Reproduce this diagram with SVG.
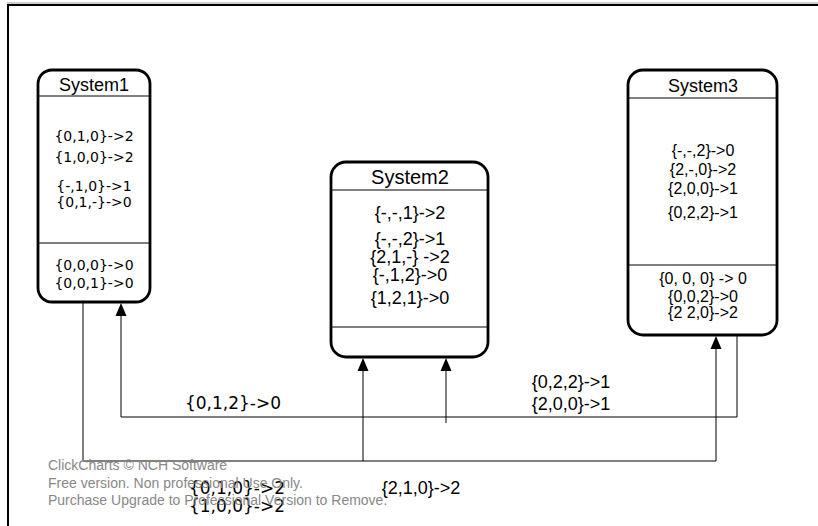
<svg xmlns="http://www.w3.org/2000/svg" width="818" height="526" viewBox="0 0 818 526">
<defs>
<style>
.box{fill:#fff;stroke:#000;stroke-width:2.8}
.sep{stroke:#000;stroke-width:1}
.title{font-family:"Liberation Sans",Arial,sans-serif;font-size:18px;text-anchor:middle;fill:#000}
.v{font-family:"DejaVu Sans",Verdana,sans-serif;font-size:14px;text-anchor:middle;fill:#000}
.a{font-family:"Liberation Sans",Arial,sans-serif;font-size:16px;text-anchor:middle;fill:#000}
.a2{font-family:"Liberation Sans",Arial,sans-serif;font-size:18px;text-anchor:middle;fill:#000}
.lv{font-family:"DejaVu Sans",Verdana,sans-serif;font-size:17px;text-anchor:middle;fill:#000}
.la{font-family:"Liberation Sans",Arial,sans-serif;font-size:18px;text-anchor:middle;fill:#000}
.wm{font-family:"Liberation Sans",Arial,sans-serif;font-size:14px;fill:#888}
.c{fill:none;stroke:#000;stroke-width:1}
.ah{fill:#000}
</style>
</defs>
<rect width="818" height="526" fill="#fff"/>
<line x1="7" y1="3" x2="818" y2="3" stroke="#999" stroke-width="1"/>
<line x1="7" y1="5" x2="818" y2="5" stroke="#000" stroke-width="2"/>
<line x1="8" y1="4" x2="8" y2="526" stroke="#000" stroke-width="2"/>

<g id="connectors">
<polyline class="c" points="83,302 83,461 716,461 716,348"/>
<polyline class="c" points="737,335 737,417 121,417 121,316"/>
<polyline class="c" points="363,461 363,370"/>
<polyline class="c" points="446,423 446,370"/>
<path class="ah" d="M716,336 L710.5,349 L721.5,349 Z"/>
<path class="ah" d="M121,303 L115.5,316 L126.5,316 Z"/>
<path class="ah" d="M363,358 L357.5,371 L368.5,371 Z"/>
<path class="ah" d="M446,358 L440.5,371 L451.5,371 Z"/>
<text class="lv" x="233" y="409">{0,1,2}-&gt;0</text>
<text class="la" x="571" y="388">{0,2,2}-&gt;1</text>
<text class="la" x="571" y="410">{2,0,0}-&gt;1</text>
<text class="la" x="421" y="494">{2,1,0}-&gt;2</text>
<text class="lv" x="237" y="494">{0,1,0}-&gt;2</text>
<text class="lv" x="237" y="512">{1,0,0}-&gt;2</text>
</g>

<g id="System1">
<rect class="box" x="38" y="70" width="112" height="232" rx="14"/>
<line class="sep" x1="38" y1="96" x2="150" y2="96"/>
<line class="sep" x1="38" y1="243" x2="150" y2="243"/>
<text class="title" x="94" y="91">System1</text>
<text class="v" x="94" y="141">{0,1,0}-&gt;2</text>
<text class="v" x="94" y="162">{1,0,0}-&gt;2</text>
<text class="v" x="94" y="191">{-,1,0}-&gt;1</text>
<text class="v" x="94" y="207">{0,1,-}-&gt;0</text>
<text class="v" x="94" y="270">{0,0,0}-&gt;0</text>
<text class="v" x="94" y="288">{0,0,1}-&gt;0</text>
</g>

<g id="System2">
<rect class="box" x="331" y="162" width="157" height="195" rx="15"/>
<line class="sep" x1="331" y1="190" x2="488" y2="190"/>
<line class="sep" x1="331" y1="327" x2="488" y2="327"/>
<text class="title" x="410" y="184" style="font-size:20px">System2</text>
<text class="a2" x="410" y="219">{-,-,1}-&gt;2</text>
<text class="a2" x="410" y="245">{-,-,2}-&gt;1</text>
<text class="a2" x="410" y="263">{2,1,-} -&gt;2</text>
<text class="a2" x="410" y="281">{-,1,2}-&gt;0</text>
<text class="a2" x="410" y="304">{1,2,1}-&gt;0</text>
</g>

<g id="System3">
<rect class="box" x="628" y="70" width="149" height="265" rx="15"/>
<line class="sep" x1="628" y1="98" x2="777" y2="98"/>
<line class="sep" x1="628" y1="265" x2="777" y2="265"/>
<text class="title" x="703" y="92">System3</text>
<text class="a" x="703" y="156">{-,-,2}-&gt;0</text>
<text class="a" x="703" y="175">{2,-,0}-&gt;2</text>
<text class="a" x="703" y="194">{2,0,0}-&gt;1</text>
<text class="a" x="703" y="218">{0,2,2}-&gt;1</text>
<text class="a" x="703" y="284">{0, 0, 0} -&gt; 0</text>
<text class="a" x="703" y="302">{0,0,2}-&gt;0</text>
<text class="a" x="703" y="318">{2 2,0}-&gt;2</text>
</g>

<g id="watermark">
<text class="wm" x="48" y="470">ClickCharts © NCH Software</text>
<text class="wm" x="48" y="488">Free version. Non professional Use Only.</text>
<text class="wm" x="48" y="505">Purchase Upgrade to Professional Version to Remove.</text>
</g>
</svg>
